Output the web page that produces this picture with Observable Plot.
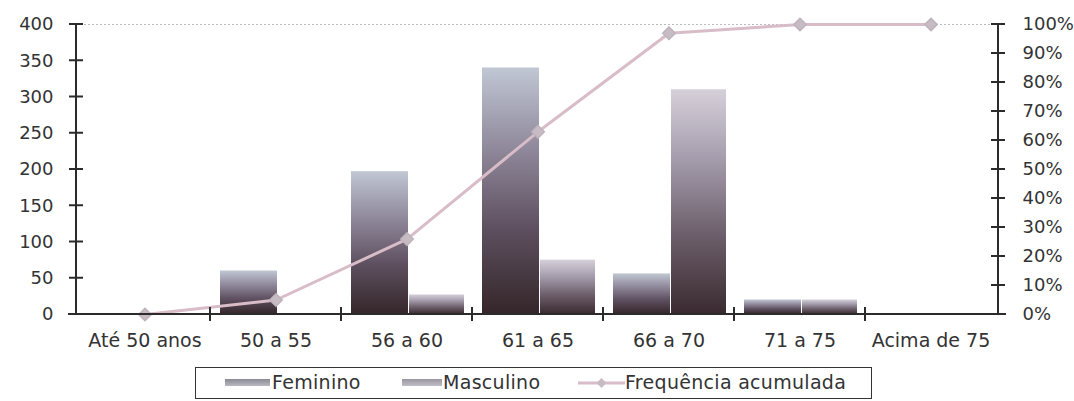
<!DOCTYPE html>
<html>
<head>
<meta charset="utf-8">
<script src="https://cdn.jsdelivr.net/npm/d3@7"></script>
<script src="https://cdn.jsdelivr.net/npm/@observablehq/plot@0.6"></script>
<style>
  body { margin: 0; background: #fff; }
  #wrap { position: relative; width: 1074px; height: 401px; font-family: "DejaVu Sans", sans-serif; }
  #legend { position: absolute; left: 195px; top: 367px; width: 677px; height: 32px; box-sizing: border-box;
            border: 1.5px solid #333; font-size: 19px; color: #333; }
  #legend > * { position: absolute; }
  #legend span.t { top: 3px; letter-spacing: 0.3px; }
  .sw { top: 11px; height: 7px; }
</style>
</head>
<body>
<div id="wrap"></div>
<script>
const categories = ["Até 50 anos", "50 a 55", "56 a 60", "61 a 65", "66 a 70", "71 a 75", "Acima de 75"];
const feminino = [0, 60, 197, 340, 56, 20, 0];
const masculino = [0, 0, 27, 75, 310, 20, 0];
const acumulada = [0, 5, 26, 63, 97, 100, 100];
const leftTicks = [0, 50, 100, 150, 200, 250, 300, 350, 400];
const rightTicks = [0, 10, 20, 30, 40, 50, 60, 70, 80, 90, 100];
const seriesNames = ["Feminino", "Masculino", "Frequência acumulada"];

const data = categories.map((c, i) => ({cat: c, fem: feminino[i], mas: masculino[i], acc: acumulada[i]}));
const pctToY = p => p * 4; // secondary axis: 100% == 400

// square diamond marker (like the spreadsheet's marker)
const squareDiamond = {
  draw(ctx, size) {
    const r = Math.sqrt(size / 2);
    ctx.moveTo(0, -r); ctx.lineTo(r, 0); ctx.lineTo(0, r); ctx.lineTo(-r, 0); ctx.closePath();
  }
};

const ink = "#2b2b2b";
const chart = Plot.plot({
  width: 1074,
  height: 362,
  marginLeft: 76,
  marginRight: 76,
  marginTop: 24,
  marginBottom: 48,
  style: {fontFamily: "DejaVu Sans, sans-serif", fontSize: "18px", color: "#333", background: "#fff"},
  x: {domain: categories, padding: 0, axis: null},
  y: {domain: [0, 400], axis: null},
  marks: [
    Plot.ruleY([400], {stroke: "#bbb", strokeDasharray: "2,2", strokeWidth: 1}),
    Plot.barY(data, {x: "cat", y: "fem", fill: "url(#gradF)", insetLeft: 10, insetRight: 64}),
    Plot.barY(data, {x: "cat", y: "mas", fill: "url(#gradM)", insetLeft: 68, insetRight: 8}),
    Plot.line(data, {x: "cat", y: d => pctToY(d.acc), stroke: "#d8bcc8", strokeWidth: 3}),
    Plot.dot(data, {x: "cat", y: d => pctToY(d.acc), symbol: squareDiamond, r: 5, fill: "#c8bcc4", stroke: "#bfb3bb"}),
    Plot.axisY(leftTicks, {anchor: "left", tickSize: 0, tickPadding: 23, fill: "#333", fontSize: 18, label: null}),
    Plot.axisY(rightTicks.map(pctToY), {anchor: "right", tickSize: 0, tickPadding: 24, fill: "#333", fontSize: 18, label: null,
      tickFormat: d => (d / 4) + "%"}),
    Plot.axisX(categories, {anchor: "bottom", tickSize: 0, tickPadding: 19, fill: "#333", fontSize: 19, label: null})
  ]
});

const svg = d3.select(chart);
const defs = svg.insert("defs", ":first-child");
function grad(id, stops) {
  const g = defs.append("linearGradient").attr("id", id).attr("x1", 0).attr("y1", 0).attr("x2", 0).attr("y2", 1);
  stops.forEach(([o, c]) => g.append("stop").attr("offset", o).attr("stop-color", c));
}
grad("gradF", [[0, "#c0c7d3"], [0.3, "#948ea0"], [0.65, "#5e5060"], [1, "#35262a"]]);
grad("gradM", [[0, "#d6d0da"], [0.3, "#a69eae"], [0.65, "#6c5e6a"], [1, "#3a2a30"]]);

// axis lines and crossing ticks, positioned with Plot's scales
const xs = chart.scale("x"), ys = chart.scale("y");
const g = svg.append("g").attr("stroke", ink).attr("stroke-width", 2).attr("fill", "none");
const x0 = xs.range[0], x1 = xs.range[1];
const yBase = ys.apply(0), yTop = ys.apply(400);
g.append("line").attr("x1", x0).attr("x2", x0).attr("y1", yTop).attr("y2", yBase);
g.append("line").attr("x1", x1).attr("x2", x1).attr("y1", yTop).attr("y2", yBase);
g.append("line").attr("x1", x0 - 8).attr("x2", x1 + 8).attr("y1", yBase).attr("y2", yBase);
leftTicks.forEach(v => g.append("line").attr("x1", x0 - 7).attr("x2", x0 + 7).attr("y1", ys.apply(v)).attr("y2", ys.apply(v)));
rightTicks.forEach(v => g.append("line").attr("x1", x1 - 7).attr("x2", x1 + 7).attr("y1", ys.apply(pctToY(v))).attr("y2", ys.apply(pctToY(v))));
categories.slice(1).forEach(c => {
  const px = xs.apply(c);
  g.append("line").attr("x1", px).attr("x2", px).attr("y1", yBase - 7).attr("y2", yBase + 7);
});

const wrap = document.getElementById("wrap");
wrap.appendChild(chart);

// legend
const legend = document.createElement("div");
legend.id = "legend";
legend.innerHTML =
  `<span class="sw" style="left:29px;width:45px;background:linear-gradient(#8a8a96,#b8b8c0)"></span>` +
  `<span class="t" style="left:76px">${seriesNames[0]}</span>` +
  `<span class="sw" style="left:206px;width:40px;background:linear-gradient(#9a96a0,#c0bcc4)"></span>` +
  `<span class="t" style="left:247px">${seriesNames[1]}</span>` +
  `<svg width="47" height="14" style="left:382px;top:8px"><line x1="0" x2="47" y1="7" y2="7" stroke="#d8bcc8" stroke-width="3"/>` +
  `<path d="M23.5,2 L28.5,7 L23.5,12 L18.5,7 Z" fill="#c8bcc4"/></svg>` +
  `<span class="t" style="left:429px">${seriesNames[2]}</span>`;
wrap.appendChild(legend);
</script>
</body>
</html>
